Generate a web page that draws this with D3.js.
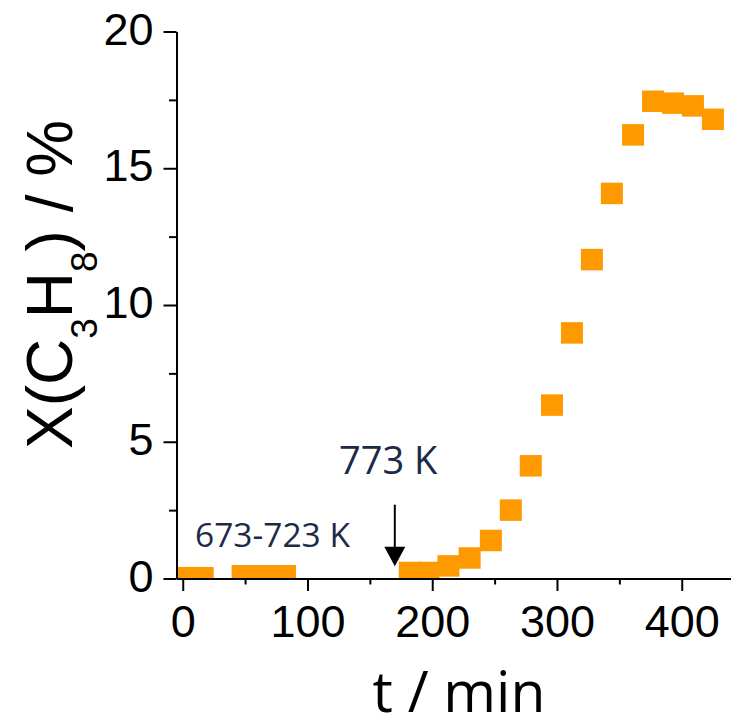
<!DOCTYPE html>
<html>
<head>
<meta charset="utf-8">
<script src="https://cdn.jsdelivr.net/npm/d3@7"></script>
<style>
  html, body { margin: 0; padding: 0; background: #fff; }
  svg { display: block; }
</style>
</head>
<body>
<svg id="chart" width="731" height="720"></svg>
<script>
// Propane conversion over time on stream
const timeMin = [0, 16, 48, 65, 82, 182, 197, 213, 230, 247, 263, 279, 296, 312, 328, 344, 361, 377, 393, 409, 425];
const conversion = [0.03, 0.03, 0.1, 0.1, 0.1, 0.22, 0.22, 0.46, 0.75, 1.39, 2.5, 4.12, 6.34, 8.98, 11.66, 14.08, 16.22, 17.45, 17.38, 17.28, 16.79];

const xMajorTicks = [0, 100, 200, 300, 400];
const xMinorTicks = [50, 150, 250, 350];
const yMajorTicks = [0, 5, 10, 15, 20];
const yMinorTicks = [2.5, 7.5, 12.5, 17.5];

// Temperature-step marker: arrow at 170 min, pointing down to the curve
const arrowTime = 170;
const arrowFrom = 2.7;
const arrowHeadBase = 1.16;
const arrowTo = 0.45;

const svg = d3.select("#chart");

const plotLeft = 176.5, plotRight = 731, plotTop = 31.5, plotBottom = 578.5;

const x = d3.scaleLinear().domain([-5, 439.5]).range([plotLeft, plotRight]);
const y = d3.scaleLinear().domain([0, 20]).range([plotBottom, plotTop]);

svg.append("defs").append("clipPath").attr("id", "plotClip")
  .append("rect")
  .attr("x", plotLeft).attr("y", plotTop)
  .attr("width", plotRight - plotLeft).attr("height", plotBottom - plotTop);

// Square markers
const sqW = 22, sqH = 21.5;
const points = timeMin.map((t, i) => ({ t, v: conversion[i] }));
svg.append("g").attr("clip-path", "url(#plotClip)")
  .selectAll("rect").data(points).enter().append("rect")
  .attr("x", d => x(d.t) - sqW / 2)
  .attr("y", d => y(d.v) - sqH / 2)
  .attr("width", sqW).attr("height", sqH)
  .attr("fill", "#ff9900");

// Axes
const axisColor = "#000";
const fontTick = "'Liberation Sans', Arial, sans-serif";

function styleAxis(g) {
  g.select(".domain").attr("stroke", axisColor).attr("stroke-width", 2);
  g.selectAll(".tick line").attr("stroke", axisColor).attr("stroke-width", 2);
}

// x minor ticks
svg.append("g").attr("transform", `translate(0,${plotBottom})`)
  .call(d3.axisBottom(x).tickValues(xMinorTicks).tickSize(6).tickSizeOuter(0).tickFormat(""))
  .call(styleAxis);
// x major ticks
const gx = svg.append("g").attr("transform", `translate(0,${plotBottom})`)
  .call(d3.axisBottom(x).tickValues(xMajorTicks).tickSize(12.5).tickSizeOuter(0).tickFormat(d3.format("d")))
  .call(styleAxis);
gx.selectAll(".tick text")
  .attr("y", 58).attr("dy", null)
  .attr("font-family", fontTick).attr("font-size", 45).attr("fill", "#000");

// y minor ticks
svg.append("g").attr("transform", `translate(${plotLeft},0)`)
  .call(d3.axisLeft(y).tickValues(yMinorTicks).tickSize(7.5).tickSizeOuter(0).tickFormat(""))
  .call(styleAxis);
// y major ticks
const gy = svg.append("g").attr("transform", `translate(${plotLeft},0)`)
  .call(d3.axisLeft(y).tickValues(yMajorTicks).tickSize(13).tickSizeOuter(0).tickFormat(d3.format("d")))
  .call(styleAxis);
gy.selectAll(".tick text")
  .attr("x", -23).attr("dy", null).attr("y", 12.5)
  .attr("font-family", fontTick).attr("font-size", 45).attr("fill", "#000");

// Axis titles
svg.append("text")
  .attr("x", 459).attr("y", 712)
  .attr("text-anchor", "middle")
  .attr("font-family", "'Open Sans', sans-serif")
  .attr("font-size", 57)
  .attr("fill", "#000")
  .text("t / min");

const yTitle = svg.append("text")
  .attr("transform", "translate(71.5,449) rotate(-90)")
  .attr("text-anchor", "start")
  .attr("font-family", fontTick)
  .attr("font-size", 64)
  .attr("fill", "#000");
yTitle.append("tspan").text("X(C");
yTitle.append("tspan").attr("font-size", 37).attr("dy", 25).text("3");
yTitle.append("tspan").attr("dy", -25).text("H");
yTitle.append("tspan").attr("font-size", 37).attr("dy", 25).text("8");
yTitle.append("tspan").attr("dy", -25).text(") / %");

// Annotations
const annColor = "#1c2a48";
svg.append("text")
  .attr("x", 195).attr("y", 546.5)
  .attr("font-family", "'Open Sans', sans-serif")
  .attr("font-size", 33.5)
  .attr("fill", annColor)
  .text("673-723 K");

svg.append("text")
  .attr("x", 339).attr("y", 473.5)
  .attr("font-family", "'Open Sans', sans-serif")
  .attr("font-size", 38)
  .attr("fill", annColor)
  .text("773 K");

// Arrow
const ax = x(arrowTime);
svg.append("line")
  .attr("x1", ax).attr("x2", ax)
  .attr("y1", y(arrowFrom)).attr("y2", y(arrowHeadBase) + 1)
  .attr("stroke", "#000").attr("stroke-width", 2);
svg.append("path")
  .attr("d", `M${ax - 10.5},${y(arrowHeadBase)} L${ax + 10.5},${y(arrowHeadBase)} L${ax},${y(arrowTo)} Z`)
  .attr("fill", "#000");
</script>
</body>
</html>
